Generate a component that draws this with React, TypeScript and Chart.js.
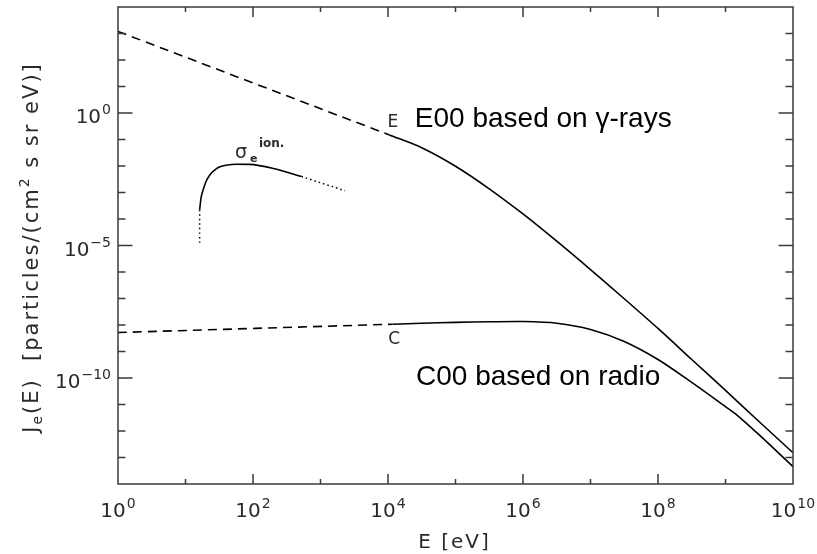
import React, { useEffect, useRef } from "react";
import { Chart, registerables } from "chart.js";

Chart.register(...registerables);

// E00 spectrum (gamma-ray based)
const eDashE = [1, 1.05e4];
const eDashJ = [1.2e3, 1.48e-1];
const eSolidE = [1.05e4, 3.16e4, 1e5, 3.16e5, 1e6, 3.16e6, 1e7, 3.16e7, 1e8, 3.16e8, 1e9, 3.16e9, 1e10];
const eSolidJ = [1.48e-1, 4.9e-2, 9.8e-3, 1.38e-3, 1.55e-4, 1.45e-5, 1.23e-6, 9.8e-8, 7.4e-9, 5.0e-10, 3.4e-11, 2.24e-12, 1.51e-13];

// C00 spectrum (radio based)
const cDashE = [1, 1.17e4];
const cDashJ = [5.2e-9, 1.07e-8];
const cSolidE = [1.17e4, 3.16e4, 1e5, 3.16e5, 1e6, 3.16e6, 1e7, 3.16e7, 1e8, 3.16e8, 1e9, 1.48e9, 3.16e9, 1e10];
const cSolidJ = [1.07e-8, 1.17e-8, 1.26e-8, 1.32e-8, 1.35e-8, 1.17e-8, 6.8e-9, 2.4e-9, 5.0e-10, 6.8e-11, 8.3e-12, 4.0e-12, 7.1e-13, 4.5e-14];

// ionisation cross-section sketch
const sigLowE = [16.2, 16.2];
const sigLowJ = [1.26e-5, 2.24e-4];
const sigE = [16.2, 17.0, 18.2, 20.0, 22.9, 28.2, 32.4, 39.8, 57.5, 89.1, 200, 525];
const sigJ = [2.24e-4, 6.3e-4, 1.23e-3, 2.5e-3, 4.6e-3, 7.6e-3, 9.3e-3, 1.07e-2, 1.17e-2, 1.15e-2, 8.1e-3, 4.0e-3];
const sigHighE = [525, 2290];
const sigHighJ = [4.0e-3, 1.17e-3];

// axis ticks (powers of ten)
const xLabelPowers = [0, 2, 4, 6, 8, 10];
const yLabelPowers = [0, -5, -10];
const xMin = 1;
const xMax = 1e10;
const yMin = 1e-14;
const yMax = 1e4;

const pts = (xs: number[], ys: number[]) => xs.map((x, i) => ({ x, y: ys[i] }));

const TICK_FONT = '"DejaVu Sans", sans-serif';
const TEXT_COL = "#2a2a2a";

function drawPow(ctx: CanvasRenderingContext2D, exp: string, x: number, base: number, align: "center" | "right", size: number) {
  ctx.font = `${size}px ${TICK_FONT}`;
  const wb = ctx.measureText("10").width;
  ctx.font = `${Math.round(size * 0.7)}px ${TICK_FONT}`;
  const we = ctx.measureText(exp).width;
  const total = wb + we + 1;
  const left = align === "center" ? x - total / 2 : x - total;
  ctx.textAlign = "left";
  ctx.textBaseline = "alphabetic";
  ctx.font = `${size}px ${TICK_FONT}`;
  ctx.fillText("10", left, base);
  ctx.font = `${Math.round(size * 0.7)}px ${TICK_FONT}`;
  ctx.fillText(exp, left + wb + 1, base - size * 0.45);
}

const framePlugin = {
  id: "frame",
  afterDatasetsDraw(chart: any) {
    const { ctx, chartArea: a, scales } = chart;
    const xs = scales.x;
    const ys = scales.y;
    ctx.save();
    ctx.strokeStyle = "#3a3a3a";
    ctx.lineWidth = 1.5;
    ctx.strokeRect(a.left, a.top, a.right - a.left, a.bottom - a.top);
    ctx.beginPath();
    for (let p = 1; p < 10; p++) {
      const px = xs.getPixelForValue(Math.pow(10, p));
      const len = p % 2 === 0 ? 10 : 5;
      ctx.moveTo(px, a.bottom);
      ctx.lineTo(px, a.bottom - len);
      ctx.moveTo(px, a.top);
      ctx.lineTo(px, a.top + len);
    }
    for (let p = -13; p < 4; p++) {
      const py = ys.getPixelForValue(Math.pow(10, p));
      const len = p % 5 === 0 ? 14.5 : 7.5;
      ctx.moveTo(a.left, py);
      ctx.lineTo(a.left + len, py);
      ctx.moveTo(a.right, py);
      ctx.lineTo(a.right - len, py);
    }
    ctx.stroke();

    ctx.fillStyle = TEXT_COL;
    // x tick labels
    xLabelPowers.forEach((p) => {
      const px = xs.getPixelForValue(Math.pow(10, p));
      drawPow(ctx, String(p), px, a.bottom + 33, "center", 20);
    });
    // y tick labels
    yLabelPowers.forEach((p) => {
      const py = ys.getPixelForValue(Math.pow(10, p));
      drawPow(ctx, p === 0 ? "0" : "\u2212" + String(-p), a.left - 7, py + 10, "right", 20);
    });

    // x title
    ctx.font = `20px ${TICK_FONT}`;
    (ctx as any).letterSpacing = "2px";
    ctx.textAlign = "center";
    ctx.fillText("E [eV]", (a.left + a.right) / 2 - 1, a.bottom + 64);

    // y title (rotated)
    ctx.save();
    ctx.translate(38, (a.top + a.bottom) / 2 + 2);
    ctx.rotate(-Math.PI / 2);
    (ctx as any).letterSpacing = "2px";
    const big = `21px ${TICK_FONT}`;
    const small = `14px ${TICK_FONT}`;
    const parts: [string, string, number][] = [
      ["J", big, 0],
      ["e", small, 4],
      ["(E)  [particles/(cm", big, 0],
      ["2", small, -9],
      [" s sr eV)]", big, 0],
    ];
    let total = 0;
    parts.forEach(([t, f]) => {
      ctx.font = f;
      total += ctx.measureText(t).width;
    });
    let cx = -total / 2;
    ctx.textAlign = "left";
    parts.forEach(([t, f, dy]) => {
      ctx.font = f;
      ctx.fillText(t, cx, dy);
      cx += ctx.measureText(t).width;
    });
    ctx.restore();
    (ctx as any).letterSpacing = "0px";

    // curve annotations
    ctx.textAlign = "left";
    ctx.fillStyle = "#000";
    const ex = xs.getPixelForValue(2.5e4);
    const ey = ys.getPixelForValue(0.295);
    ctx.font = `28px "Liberation Sans", Arial, sans-serif`;
    ctx.fillText("E00 based on \u03b3-rays", ex, ey);
    const cxp = xs.getPixelForValue(2.6e4);
    const cyp = ys.getPixelForValue(5.5e-11);
    ctx.font = `28px "Liberation Sans", Arial, sans-serif`;
    ctx.fillText("C00 based on radio", cxp, cyp);

    ctx.fillStyle = TEXT_COL;
    ctx.textAlign = "center";
    ctx.font = `17px ${TICK_FONT}`;
    ctx.fillText("E", xs.getPixelForValue(1.18e4), ys.getPixelForValue(0.295));
    ctx.fillText("C", xs.getPixelForValue(1.23e4), ys.getPixelForValue(1.95e-9));

    const sx = xs.getPixelForValue(54);
    const sy = ys.getPixelForValue(2.0e-2);
    ctx.textAlign = "left";
    ctx.font = `19px ${TICK_FONT}`;
    ctx.fillText("\u03c3", sx, sy);
    ctx.font = `bold 11px ${TICK_FONT}`;
    ctx.fillText("e", sx + 15, sy + 4);
    ctx.font = `bold 12px ${TICK_FONT}`;
    ctx.fillText("ion.", sx + 24, sy - 11);
    ctx.restore();
  },
};

export default function App() {
  const ref = useRef<HTMLCanvasElement | null>(null);
  useEffect(() => {
    if (!ref.current) return;
    const line = { borderColor: "#000", borderWidth: 1.6, pointRadius: 0, fill: false, tension: 0.3 };
    const chart = new Chart(ref.current, {
      type: "line",
      data: {
        datasets: [
          { ...line, label: "E00 dashed", data: pts(eDashE, eDashJ), borderDash: [9, 6] },
          { ...line, label: "E00", data: pts(eSolidE, eSolidJ) },
          { ...line, label: "C00 dashed", data: pts(cDashE, cDashJ), borderDash: [9, 6] },
          { ...line, label: "C00", data: pts(cSolidE, cSolidJ) },
          { ...line, label: "sigma low", data: pts(sigLowE, sigLowJ), borderDash: [1.5, 3], borderWidth: 1.5 },
          { ...line, label: "sigma", data: pts(sigE, sigJ), cubicInterpolationMode: "monotone" as const },
          { ...line, label: "sigma high", data: pts(sigHighE, sigHighJ), borderDash: [1.5, 3], borderWidth: 1.5 },
        ],
      },
      options: {
        animation: false,
        responsive: false,
        devicePixelRatio: 1,
        layout: { padding: { left: 118, top: 7, right: 24, bottom: 70 } },
        plugins: { legend: { display: false }, tooltip: { enabled: false } },
        scales: {
          x: { type: "logarithmic", min: xMin, max: xMax, display: false },
          y: { type: "logarithmic", min: yMin, max: yMax, display: false },
        },
      },
      plugins: [framePlugin],
    });
    return () => chart.destroy();
  }, []);
  return (
    <div style={{ position: "absolute", left: 0, top: 0, width: 817, height: 554, background: "#fff" }}>
      <canvas ref={ref} width={817} height={554} />
    </div>
  );
}
